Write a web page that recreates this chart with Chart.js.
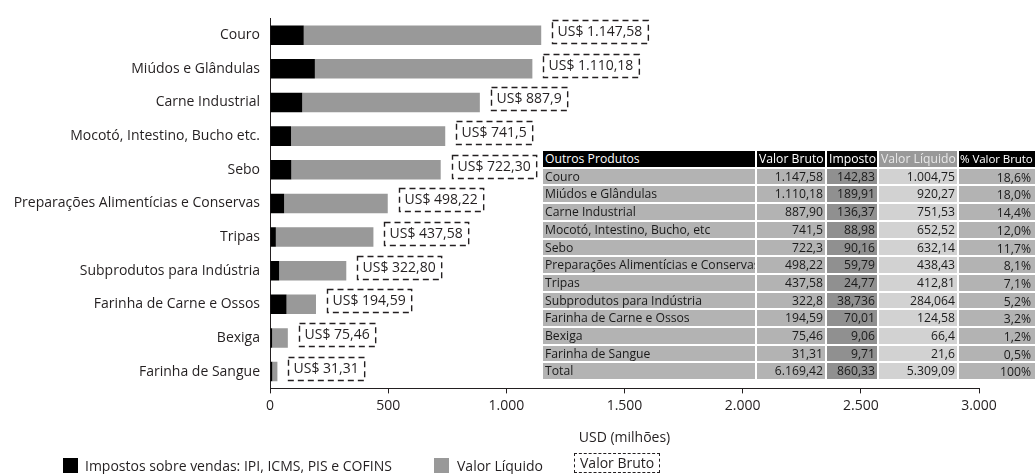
<!DOCTYPE html>
<html>
<head>
<meta charset="utf-8">
<script src="https://cdn.jsdelivr.net/npm/chart.js@4.4.1/dist/chart.umd.min.js"></script>
<style>
    body { margin: 0; background: #fff; font-family: "Open Sans", sans-serif; color: #231f20; }
    #wrap { position: relative; width: 1035px; height: 474px; overflow: hidden; }
    #grafico { position: absolute; left: 0; top: 0; }
    #tabela {
        position: absolute; left: 541px; top: 149px; width: 496px;
        border-collapse: separate; border-spacing: 2px;
        table-layout: fixed; font-size: 12.2px; color: #1a1a1a;
    }
    #tabela td, #tabela th {
        padding: 0 2px; height: 15.7px; line-height: 15.7px;
        white-space: nowrap; overflow: hidden; font-weight: normal;
        box-sizing: border-box;
    }
    #tabela th { background: #000; color: #fff; text-align: right; }
    #tabela th.nome { text-align: left; }
    #tabela th.liq { background: #999; color: #e8e8e8; }
    #tabela th.pct { text-align: left; padding: 0 0 0 1px; font-size: 11.6px; letter-spacing: -0.1px; }
    #tabela td { background: #b3b3b3; text-align: right; }
    #tabela td.nome { text-align: left; }
    #tabela td.imp { background: #909090; }
    #tabela td.liq { background: #d2d2d2; }
    #tabela td.pct { padding-top: 2px; padding-right: 4px; line-height: 13.7px; }
    .leg { position: absolute; top: 458px; font-size: 14px; line-height: 16px; white-space: nowrap; }
    .quad { position: absolute; width: 15px; height: 15px; top: 458px; }
    .tracejado { position: absolute; top: 453px; border: 1.4px dashed #231f20; padding: 1px 5px 1px 5px; font-size: 14px; line-height: 16px; }
</style>
</head>
<body>
<div id="wrap">
    <canvas id="grafico" width="1035" height="474"></canvas>
    <table id="tabela">
        <colgroup>
            <col style="width:212px"><col style="width:68px"><col style="width:50px"><col style="width:78px"><col style="width:76px">
        </colgroup>
        <thead></thead>
        <tbody></tbody>
    </table>
    <span class="quad" style="left:63px;background:#000"></span>
    <div class="leg" style="left:85px">Impostos sobre vendas: IPI, ICMS, PIS e COFINS</div>
    <span class="quad" style="left:434px;background:#999"></span>
    <div class="leg" style="left:457px">Valor Líquido</div>
    <div class="tracejado" style="left:574px">Valor Bruto</div>
</div>
<script>
    // Categorias do gráfico (de cima para baixo)
    const categorias = [
        'Couro', 'Miúdos e Glândulas', 'Carne Industrial', 'Mocotó, Intestino, Bucho etc.',
        'Sebo', 'Preparações Alimentícias e Conservas', 'Tripas', 'Subprodutos para Indústria',
        'Farinha de Carne e Ossos', 'Bexiga', 'Farinha de Sangue'
    ];

    // Séries (USD milhões)
    const impostos = [142.83, 189.91, 136.37, 88.98, 90.16, 59.79, 24.77, 38.736, 70.01, 9.06, 9.71];
    const valorLiquido = [1004.75, 920.27, 751.53, 652.52, 632.14, 438.43, 412.81, 284.064, 124.58, 66.4, 21.6];

    // Rótulos tracejados (valor bruto)
    const rotulosBruto = ['1.147,58', '1.110,18', '887,9', '741,5', '722,30', '498,22', '437,58', '322,80', '194,59', '75,46', '31,31'];

    // Eixo X
    const ticksX = [0, 500, 1000, 1500, 2000, 2500, 3000];

    // Tabela
    const cabecalhoTabela = ['Outros Produtos', 'Valor Bruto', 'Imposto', 'Valor Líquido', '% Valor Bruto'];
    const produtosTabela = [
        'Couro', 'Miúdos e Glândulas', 'Carne Industrial', 'Mocotó, Intestino, Bucho, etc', 'Sebo',
        'Preparações Alimentícias e Conservas', 'Tripas', 'Subprodutos para Indústria',
        'Farinha de Carne e Ossos', 'Bexiga', 'Farinha de Sangue', 'Total'
    ];
    const brutoTabela = ['1.147,58', '1.110,18', '887,90', '741,5', '722,3', '498,22', '437,58', '322,8', '194,59', '75,46', '31,31', '6.169,42'];
    const impostoTabela = ['142,83', '189,91', '136,37', '88,98', '90,16', '59,79', '24,77', '38,736', '70,01', '9,06', '9,71', '860,33'];
    const liquidoTabela = ['1.004,75', '920,27', '751,53', '652,52', '632,14', '438,43', '412,81', '284,064', '124,58', '66,4', '21,6', '5.309,09'];
    const pctTabela = ['18,6%', '18,0%', '14,4%', '12,0%', '11,7%', '8,1%', '7,1%', '5,2%', '3,2%', '1,2%', '0,5%', '100%'];

    /**
     * Monta a tabela lateral
     */
    function montarTabela() {
        const thead = document.querySelector('#tabela thead');
        const tbody = document.querySelector('#tabela tbody');
        const classes = ['nome', 'bru', 'imp', 'liq', 'pct'];

        let html = '<tr>';
        cabecalhoTabela.forEach((t, i) => {
            html += '<th class="' + classes[i] + '">' + t + '</th>';
        });
        thead.innerHTML = html + '</tr>';

        html = '';
        produtosTabela.forEach((nome, i) => {
            const linha = [nome, brutoTabela[i], impostoTabela[i], liquidoTabela[i], pctTabela[i]];
            html += '<tr>' + linha.map((v, j) => '<td class="' + classes[j] + '">' + v + '</td>').join('') + '</tr>';
        });
        tbody.innerHTML = html;
    }

    // Caixas tracejadas com o valor bruto no fim de cada barra
    const rotulosPlugin = {
        id: 'rotulosBruto',
        afterDatasetsDraw(chart) {
            const ctx = chart.ctx;
            const meta = chart.getDatasetMeta(1);
            ctx.save();
            ctx.font = '14px "Open Sans"';
            ctx.fillStyle = '#231f20';
            ctx.strokeStyle = '#231f20';
            ctx.lineWidth = 1.4;
            ctx.textBaseline = 'middle';
            meta.data.forEach((barra, i) => {
                const texto = 'US$ ' + rotulosBruto[i];
                const largura = ctx.measureText(texto).width + 11;
                const x0 = Math.round(barra.x + 11) + 0.5;
                const y0 = Math.round(barra.y - 15) + 0.5;
                ctx.setLineDash([6, 4]);
                ctx.strokeRect(x0, y0, largura, 23);
                ctx.setLineDash([]);
                ctx.fillText(texto, x0 + 5, y0 + 12);
            });
            ctx.restore();
        }
    };

    function init() {
        montarTabela();

        const ctx = document.getElementById('grafico').getContext('2d');
        Chart.defaults.font.family = '"Open Sans", sans-serif';
        Chart.defaults.color = '#231f20';

        new Chart(ctx, {
            type: 'bar',
            data: {
                labels: categorias,
                datasets: [{
                    label: 'Impostos sobre vendas: IPI, ICMS, PIS e COFINS',
                    data: impostos,
                    backgroundColor: '#000'
                }, {
                    label: 'Valor Líquido',
                    data: valorLiquido,
                    backgroundColor: '#999'
                }]
            },
            options: {
                indexAxis: 'y',
                responsive: false,
                animation: false,
                datasets: {
                    bar: { barPercentage: 0.58, categoryPercentage: 1 }
                },
                layout: {
                    padding: { top: 12, right: 56, bottom: 28, left: 0 }
                },
                plugins: {
                    legend: { display: false },
                    tooltip: { enabled: false }
                },
                scales: {
                    x: {
                        stacked: true,
                        min: 0,
                        max: 3000,
                        afterBuildTicks: function(scale) {
                            scale.ticks = ticksX.map(v => ({ value: v }));
                        },
                        ticks: {
                            padding: 4,
                            font: { size: 14 },
                            callback: v => v.toLocaleString('pt-BR')
                        },
                        grid: {
                            drawOnChartArea: false,
                            drawTicks: true,
                            tickLength: 5,
                            color: '#231f20'
                        },
                        border: { color: '#231f20', width: 1 },
                        title: {
                            display: true,
                            text: 'USD (milhões)',
                            font: { size: 14 },
                            padding: { top: 11, bottom: 0 }
                        }
                    },
                    y: {
                        stacked: true,
                        afterFit: function(scale) {
                            scale.width = 270;
                        },
                        ticks: {
                            padding: 10,
                            font: { size: 14 }
                        },
                        grid: { display: false, drawTicks: false },
                        border: { color: '#231f20', width: 1 }
                    }
                }
            },
            plugins: [rotulosPlugin]
        });
    }

    init();
</script>
</body>
</html>
